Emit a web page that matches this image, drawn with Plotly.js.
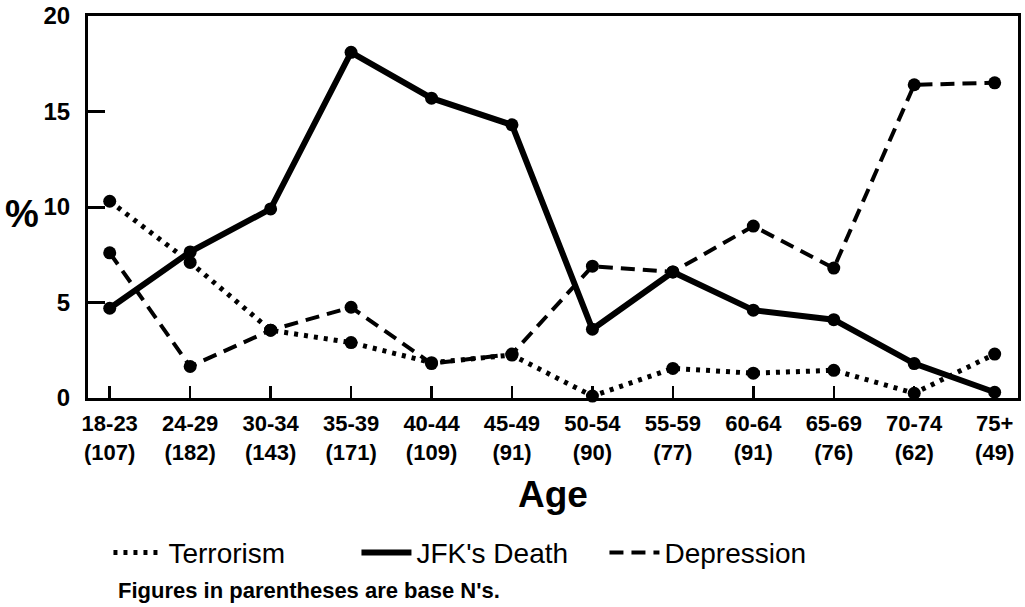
<!DOCTYPE html>
<html>
<head>
<meta charset="utf-8">
<script src="https://cdn.plot.ly/plotly-3.0.1.min.js"></script>
<style>html,body{margin:0;padding:0;background:#fff;}#chart{width:1025px;height:607px;}</style>
</head>
<body>
<div id="chart"></div>
<script>
var ageGroups = ["18-23","24-29","30-34","35-39","40-44","45-49","50-54","55-59","60-64","65-69","70-74","75+"];
var baseN = [107,182,143,171,109,91,90,77,91,76,62,49];
var terrorism = [10.3,7.1,3.55,2.9,1.85,2.25,0.1,1.55,1.3,1.45,0.25,2.3];
var jfkDeath = [4.7,7.65,9.9,18.1,15.7,14.3,3.6,6.6,4.6,4.1,1.8,0.3];
var depression = [7.6,1.65,3.55,4.75,1.8,2.3,6.9,6.6,9.0,6.8,16.4,16.5];
var yTicks = [0,5,10,15,20];

var FONT = "Liberation Sans, Arial, sans-serif";
var tickText = ageGroups.map(function(a,i){ return a + "<br>(" + baseN[i] + ")"; });

function series(name, y, dash, width){
  return {
    x: ageGroups, y: y, name: name, type: "scatter", mode: "lines+markers",
    line: {color: "#000", width: width, dash: dash},
    marker: {color: "#000", size: 13},
    cliponaxis: false, showlegend: false
  };
}
function legendItem(name, dash, width){
  return {x: [null], y: [null], name: name, type: "scatter", mode: "lines",
    line: {color: "#000", width: width, dash: dash}, showlegend: true};
}

var data = [
  series("Terrorism", terrorism, "4px,6px", 5),
  series("JFK's Death", jfkDeath, "solid", 6),
  series("Depression", depression, "14px,8px", 4),
  legendItem("Terrorism", "4px,6px", 5),
  legendItem("JFK's Death", "solid", 6),
  legendItem("Depression", "14px,8px", 4)
];

var layout = {
  width: 1025, height: 607,
  margin: {l: 88, r: 7, t: 16, b: 209, pad: 0},
  paper_bgcolor: "#fff", plot_bgcolor: "#fff",
  font: {family: FONT, color: "#000"},
  xaxis: {
    type: "category", range: [-0.27, 11.29],
    tickmode: "array", tickvals: ageGroups, ticktext: tickText,
    ticks: "inside", ticklen: 12, tickwidth: 2.5, tickcolor: "#000",
    showline: true, linewidth: 3, linecolor: "#000", mirror: true,
    showgrid: false, zeroline: false,
    tickfont: {family: FONT, size: 22, weight: "bold"},
    ticklabelstandoff: 4,
    title: {text: "Age", font: {family: FONT, size: 37, weight: "bold"}, standoff: 18},
    automargin: false
  },
  yaxis: {
    range: [0, 20], tickmode: "array", tickvals: yTicks,
    ticks: "inside", ticklen: 17, tickwidth: 3, tickcolor: "#000",
    showline: true, linewidth: 3, linecolor: "#000", mirror: true,
    showgrid: false, zeroline: false,
    tickfont: {family: FONT, size: 24, weight: "bold"},
    ticklabelstandoff: 10,
    automargin: false
  },
  showlegend: true,
  legend: {
    orientation: "h", x: 0.022, xanchor: "left", y: -0.405, yanchor: "middle",
    font: {family: FONT, size: 28}, itemwidth: 50, entrywidth: 183, entrywidthmode: "pixels",
    bgcolor: "rgba(0,0,0,0)"
  },
  annotations: [
    {text: "%", xref: "paper", yref: "paper", x: -0.071, y: 0.482, xanchor: "center", yanchor: "middle",
     showarrow: false, font: {family: FONT, size: 38, weight: "bold"}},
    {text: "Figures in parentheses are base N's.", xref: "paper", yref: "paper", x: 0.030, y: -0.505,
     xanchor: "left", yanchor: "middle", showarrow: false, font: {family: FONT, size: 22, weight: "bold"}}
  ]
};

Plotly.newPlot("chart", data, layout, {displayModeBar: false, staticPlot: true});
</script>
</body>
</html>
